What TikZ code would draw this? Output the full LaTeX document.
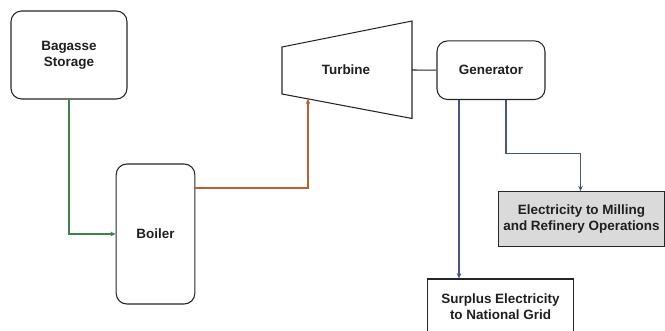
\documentclass[tikz,border=0pt]{standalone}
\usepackage{fontspec}
\setmainfont{Liberation Sans}
\usetikzlibrary{arrows.meta}
\definecolor{feedgreen}{RGB}{62,130,84}
\definecolor{steamred}{RGB}{190,92,52}
\definecolor{powerblue}{RGB}{72,82,140}
\definecolor{loadgray}{RGB}{218,218,218}
\begin{document}
\begin{tikzpicture}[x=0.75pt, y=-0.75pt, >={Stealth[length=4pt,width=3.5pt]},
	every node/.style={font=\fontsize{10.1}{12.2}\selectfont\bfseries, align=center, text=black!88},
	unit/.style={draw=black!85, line width=0.8pt, rounded corners=8pt, inner sep=0pt},
	load/.style={draw=black!85, line width=0.8pt, inner sep=0pt},
	flow/.style={->, line width=0.8pt}]
	\useasboundingbox (0,0) rectangle (665,331);
	\clip (0,0) rectangle (665,331);
	\node[unit, minimum width=87pt, minimum height=66pt] (store) at (69,55) {Bagasse\\Storage};
	\node[unit, minimum width=59pt, minimum height=105pt] (boiler) at (155.5,234) {Boiler};
	% turbine casing
	\coordinate (tbl) at (282,47);
	\coordinate (tbb) at (282,94);
	\coordinate (trt) at (412,21);
	\coordinate (trb) at (412,118.5);
	\draw[line width=0.8pt, black!85] (tbl) -- (trt) -- (trb) -- (tbb) -- cycle;
	\node (turbine) at (346,70) {Turbine};
	\coordinate (tout) at (412,70);
	\coordinate (tin) at (308,98.8);
	\node[unit, minimum width=81pt, minimum height=44pt] (gen) at (491,70.2) {Generator};
	\node[load, fill=loadgray, minimum width=125pt, minimum height=41pt] (mill) at (581.5,219) {Electricity to Milling\\and Refinery Operations};
	\node[load, minimum width=109pt, minimum height=42pt] (grid) at (500.5,307) {Surplus Electricity\\to National Grid};
	% connections
	\draw[flow, feedgreen] (store.south) |- (boiler.west);
	\draw[flow, steamred] (boiler.east |- 0,188) -| (tin);
	\draw[line width=0.8pt, black!85] (tout) -- (gen.west);
	\draw[flow, powerblue] (gen.south -| 459,0) -- (grid.north -| 459,0);
	\draw[flow, powerblue] (gen.south -| 506,0) |- (580.5,153.5) -- (mill.north -| 580.5,0);
\end{tikzpicture}
\end{document}
